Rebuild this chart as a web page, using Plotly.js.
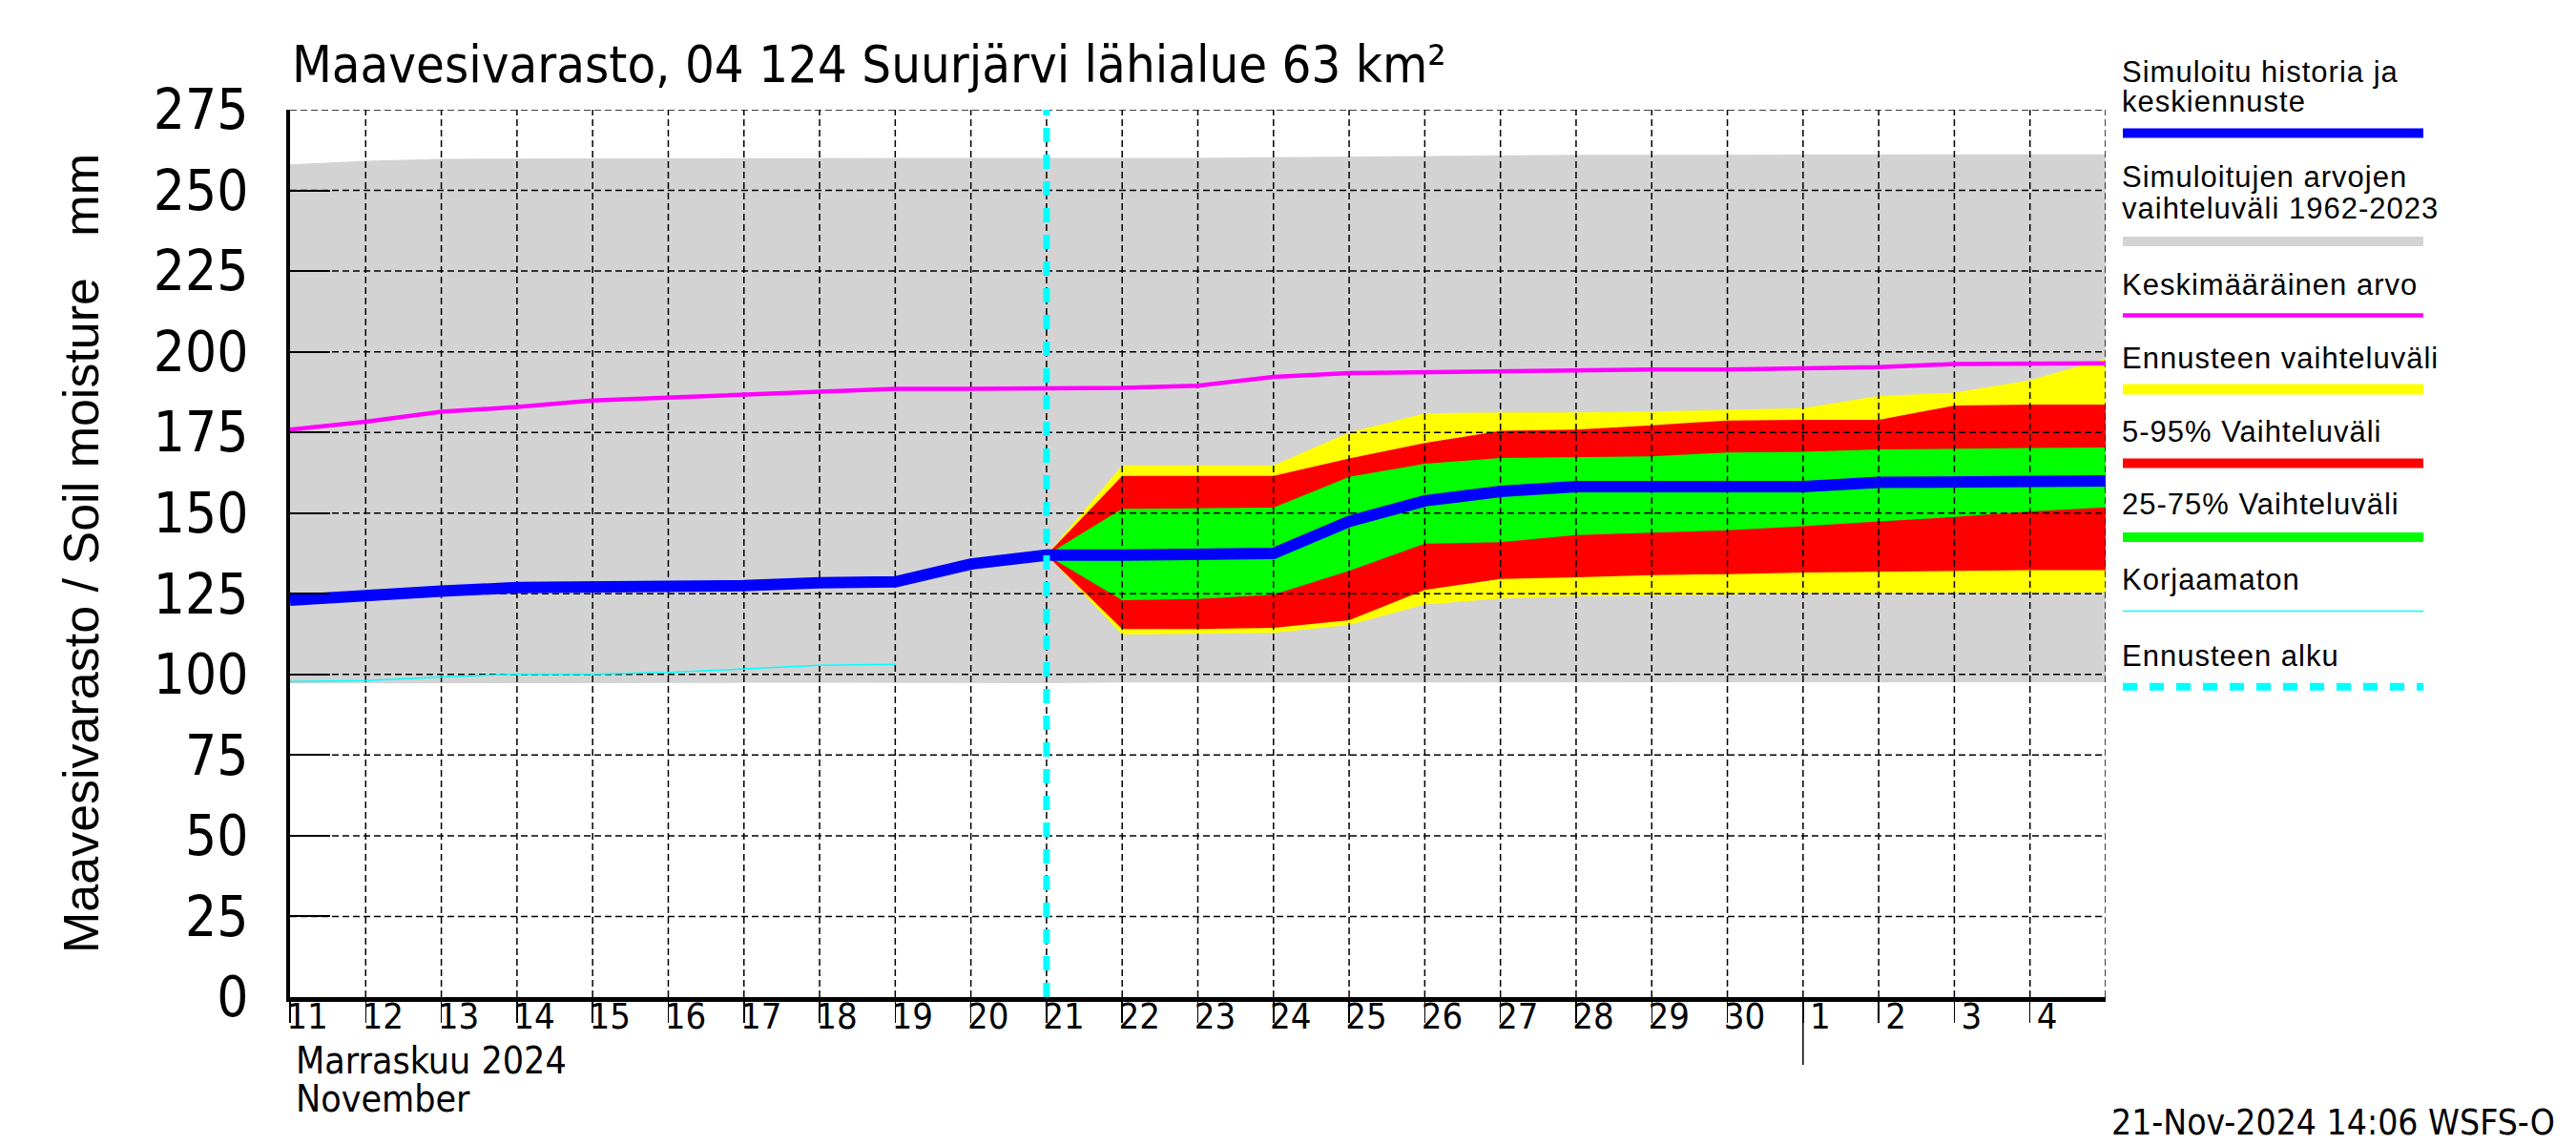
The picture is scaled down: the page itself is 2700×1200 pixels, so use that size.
<!DOCTYPE html>
<html><head><meta charset="utf-8">
<script src="https://cdn.plot.ly/plotly-3.0.1.min.js"></script>
<style>html,body{margin:0;padding:0;background:#fff}</style>
</head><body><div id="chart" style="width:2700px;height:1200px"></div>
<script>
// ---------- DATA ----------
const allDates = ['2024-11-11','2024-11-12','2024-11-13','2024-11-14','2024-11-15','2024-11-16','2024-11-17','2024-11-18','2024-11-19','2024-11-20','2024-11-21','2024-11-22','2024-11-23','2024-11-24','2024-11-25','2024-11-26','2024-11-27','2024-11-28','2024-11-29','2024-11-30','2024-12-01','2024-12-02','2024-12-03','2024-12-04','2024-12-05'];
const fcDates = ['2024-11-21','2024-11-22','2024-11-23','2024-11-24','2024-11-25','2024-11-26','2024-11-27','2024-11-28','2024-11-29','2024-11-30','2024-12-01','2024-12-02','2024-12-03','2024-12-04','2024-12-05'];
const korjDates = ['2024-11-11','2024-11-12','2024-11-13','2024-11-14','2024-11-15','2024-11-16','2024-11-17','2024-11-18','2024-11-19'];

const grayHi = [258.1,259.2,259.8,259.9,260.0,260.0,260.0,260.0,260.0,260.0,260.0,260.0,260.1,260.3,260.5,260.6,260.7,261.0,261.0,261.1,261.1,261.1,261.2,261.2,261.2];
const grayLo = [97.2,97.2,97.3,97.3,97.3,97.4,97.4,97.4,97.4,97.4,97.3,97.5,97.5,97.5,97.5,97.5,97.5,97.5,97.6,97.6,97.6,97.6,97.6,97.6,97.6];
const meanVals = [175.9,178.3,181.4,182.9,184.9,185.8,186.8,187.8,188.5,188.5,188.6,188.8,189.5,192.2,193.4,193.7,194.2,194.5,194.5,194.5,194.7,195.2,196.2,196.4,196.4];
const blueVals = [123.0,124.0,125.8,126.9,126.9,126.9,127.5,128.4,128.7,134.2,137.0,137.0,137.3,137.5,147.4,153.8,156.7,158.2,158.2,158.2,158.2,159.5,159.7,159.9,160.0];
const korjVals = [97.8,98.1,99.2,100.1,100.1,100.6,101.7,102.8,103.1];

const yelHi = [137.0,164.8,164.8,164.8,175.0,180.9,181.2,181.2,181.5,182.1,182.5,186.3,187.3,191.2,197.8];
const redHi = [137.0,161.5,161.5,161.5,166.9,171.7,175.5,175.9,177.2,178.7,178.9,178.9,183.3,183.6,183.6];
const grnHi = [137.0,151.3,151.5,151.7,161.2,165.3,167.1,167.4,167.6,168.8,169.0,169.7,170.0,170.2,170.3];
const grnLo = [137.0,123.0,123.4,124.7,132.1,140.5,141.0,143.2,143.9,144.7,145.9,147.4,148.8,150.5,151.8];
const redLo = [137.0,114.1,114.1,114.4,116.8,126.2,129.6,130.1,130.8,131.1,131.6,131.8,132.1,132.3,132.3];
const yelLo = [137.0,112.4,112.6,112.9,115.3,121.7,123.5,124.2,124.4,124.7,125.2,125.2,125.2,125.4,125.4];

const forecastStart = '2024-11-21';
const monthStart = '2024-12-01';
const dayTickVals = allDates.slice(0, 24);
const dayTickText = ['11','12','13','14','15','16','17','18','19','20','21','22','23','24','25','26','27','28','29','30','1','2','3','4'];
const yTicks = [0,25,50,75,100,125,150,175,200,225,250,275];

const titleText = 'Maavesivarasto, 04 124 Suurjärvi lähialue 63 km²';
const yTitleText = 'Maavesivarasto / Soil moisture   mm';
const monthLabels = ['Marraskuu 2024', 'November'];
const stampText = '21-Nov-2024 14:06 WSFS-O';

const legendLines = [
  ['Simuloitu historia ja', 'keskiennuste'],
  ['Simuloitujen arvojen', 'vaihteluväli 1962-2023'],
  ['Keskimääräinen arvo'],
  ['Ennusteen vaihteluväli'],
  ['5-95% Vaihteluväli'],
  ['25-75% Vaihteluväli'],
  ['Korjaamaton'],
  ['Ennusteen alku']
];
const legendColors = ['#0000ff','#d3d3d3','#ff00ff','#ffff00','#ff0000','#00ff00','#00ffff','#00ffff'];

// ---------- BUILD ----------
const NARROW = 'Liberation Sans Narrow, Arial Narrow, DejaVu Sans Condensed, sans-serif';
const SANS = 'Liberation Sans, Arial, sans-serif';

function band(x, lo, hi, color) {
  return {x: x.concat(x.slice().reverse()), y: hi.concat(lo.slice().reverse()),
    type: 'scatter', mode: 'lines', fill: 'toself', fillcolor: color,
    line: {width: 0, color: color}, hoverinfo: 'skip'};
}

const xStart = allDates[0], xEnd = allDates[allDates.length - 1];
const gx = [], gy = [];
allDates.slice(1).forEach(d => { gx.push(d, d, null); gy.push(0, 275, null); });
yTicks.slice(1).forEach(v => { gx.push(xStart, xEnd, null); gy.push(v, v, null); });

const traces = [
  band(allDates, grayLo, grayHi, '#d3d3d3'),
  band(fcDates, yelLo, yelHi, '#ffff00'),
  band(fcDates, redLo, redHi, '#ff0000'),
  band(fcDates, grnLo, grnHi, '#00ff00'),
  {x: gx, y: gy, type: 'scatter', mode: 'lines', line: {color: '#000', width: 1.5, dash: '7px,4px'}, hoverinfo: 'skip'},
  {x: allDates, y: meanVals, type: 'scatter', mode: 'lines', line: {color: '#ff00ff', width: 4.5}},
  {x: korjDates, y: korjVals, type: 'scatter', mode: 'lines', line: {color: '#00ffff', width: 1.5}},
  {x: allDates, y: blueVals, type: 'scatter', mode: 'lines', line: {color: '#0000ff', width: 12}},
  {x: [forecastStart, forecastStart], y: [0, 275], type: 'scatter', mode: 'lines', line: {color: '#00ffff', width: 7, dash: '15px,13px'}}
];

// legend (outside plot, paper coords)
const L = 304, R = 2207, T = 115, B = 1045;
const px = v => (v - L) / (R - L);
const py = v => (B - v) / (B - T);
const legText = [[75.8, 106.8], [186, 218.7], [298], [375.4], [452.9], [528.7], [607.9], [687]];
const legSw = [139.5, 253, 330.6, 408, 485.6, 563, 640.6, 719.8];
const legW = [10, 10, 4.5, 11, 10, 10, 1.5, 8];
const LF = 31;
const shapes = [], annotations = [];
legendLines.forEach((lines, i) => {
  lines.forEach((t, j) => {
    annotations.push({xref: 'paper', yref: 'paper', x: px(2222), y: py(legText[i][j]),
      xanchor: 'left', yanchor: 'middle', showarrow: false,
      text: '<span style="letter-spacing:1px">' + t + '</span>',
      font: {family: SANS, size: LF, color: '#000'}});
  });
  shapes.push({type: 'line', xref: 'paper', yref: 'paper', x0: px(2225), x1: px(2540),
    y0: py(legSw[i]), y1: py(legSw[i]),
    line: {color: legendColors[i], width: legW[i], dash: i === 7 ? '15px,13px' : 'solid'}});
});
// month boundary separator below the axis
shapes.push({type: 'line', xref: 'x', yref: 'paper', x0: monthStart, x1: monthStart, y0: 0, y1: py(1116),
  line: {color: '#000', width: 1.5}});

annotations.push({xref: 'paper', yref: 'paper', x: px(308), y: py(1111), xanchor: 'left', yanchor: 'middle',
  showarrow: false, text: monthLabels[0], font: {family: NARROW, size: 39, color: '#000'}});
annotations.push({xref: 'paper', yref: 'paper', x: px(308), y: py(1151), xanchor: 'left', yanchor: 'middle',
  showarrow: false, text: monthLabels[1], font: {family: NARROW, size: 39, color: '#000'}});
annotations.push({xref: 'paper', yref: 'paper', x: px(2680), y: py(1176), xanchor: 'right', yanchor: 'middle',
  showarrow: false, text: stampText, font: {family: NARROW, size: 37, color: '#000'}});

const layout = {
  width: 2700, height: 1200,
  margin: {l: L, r: 2700 - R, t: T, b: 1200 - B, pad: 0},
  paper_bgcolor: '#fff', plot_bgcolor: '#fff',
  showlegend: false, hovermode: false,
  title: {text: titleText, xref: 'paper', x: 0.001, xanchor: 'left', yref: 'container', y: 1 - 67 / 1200, yanchor: 'middle',
    font: {family: NARROW, size: 54, color: '#000'}},
  xaxis: {type: 'date', range: [xStart, xEnd], tickmode: 'array', tickvals: dayTickVals, ticktext: dayTickText,
    ticks: 'outside', ticklen: 22, tickwidth: 1.5, tickcolor: '#000',
    tickfont: {family: NARROW, size: 38, color: '#000'}, ticklabelshift: 18, ticklabelstandoff: -40,
    showgrid: false, zeroline: false, showline: true, linecolor: '#000', linewidth: 5, fixedrange: true},
  yaxis: {range: [0, 275], tickmode: 'array', tickvals: yTicks, ticks: 'inside', ticklen: 42, tickwidth: 2, tickcolor: '#000',
    tickfont: {family: NARROW, size: 58, color: '#000'}, ticklabelstandoff: 28,
    showgrid: false, zeroline: false, showline: true, linecolor: '#000', linewidth: 4, fixedrange: true,
    title: {text: yTitleText, font: {family: SANS, size: 52, color: '#000'}, standoff: 42}},
  shapes: shapes, annotations: annotations
};

Plotly.newPlot('chart', traces, layout, {staticPlot: true});
</script>
</body></html>
